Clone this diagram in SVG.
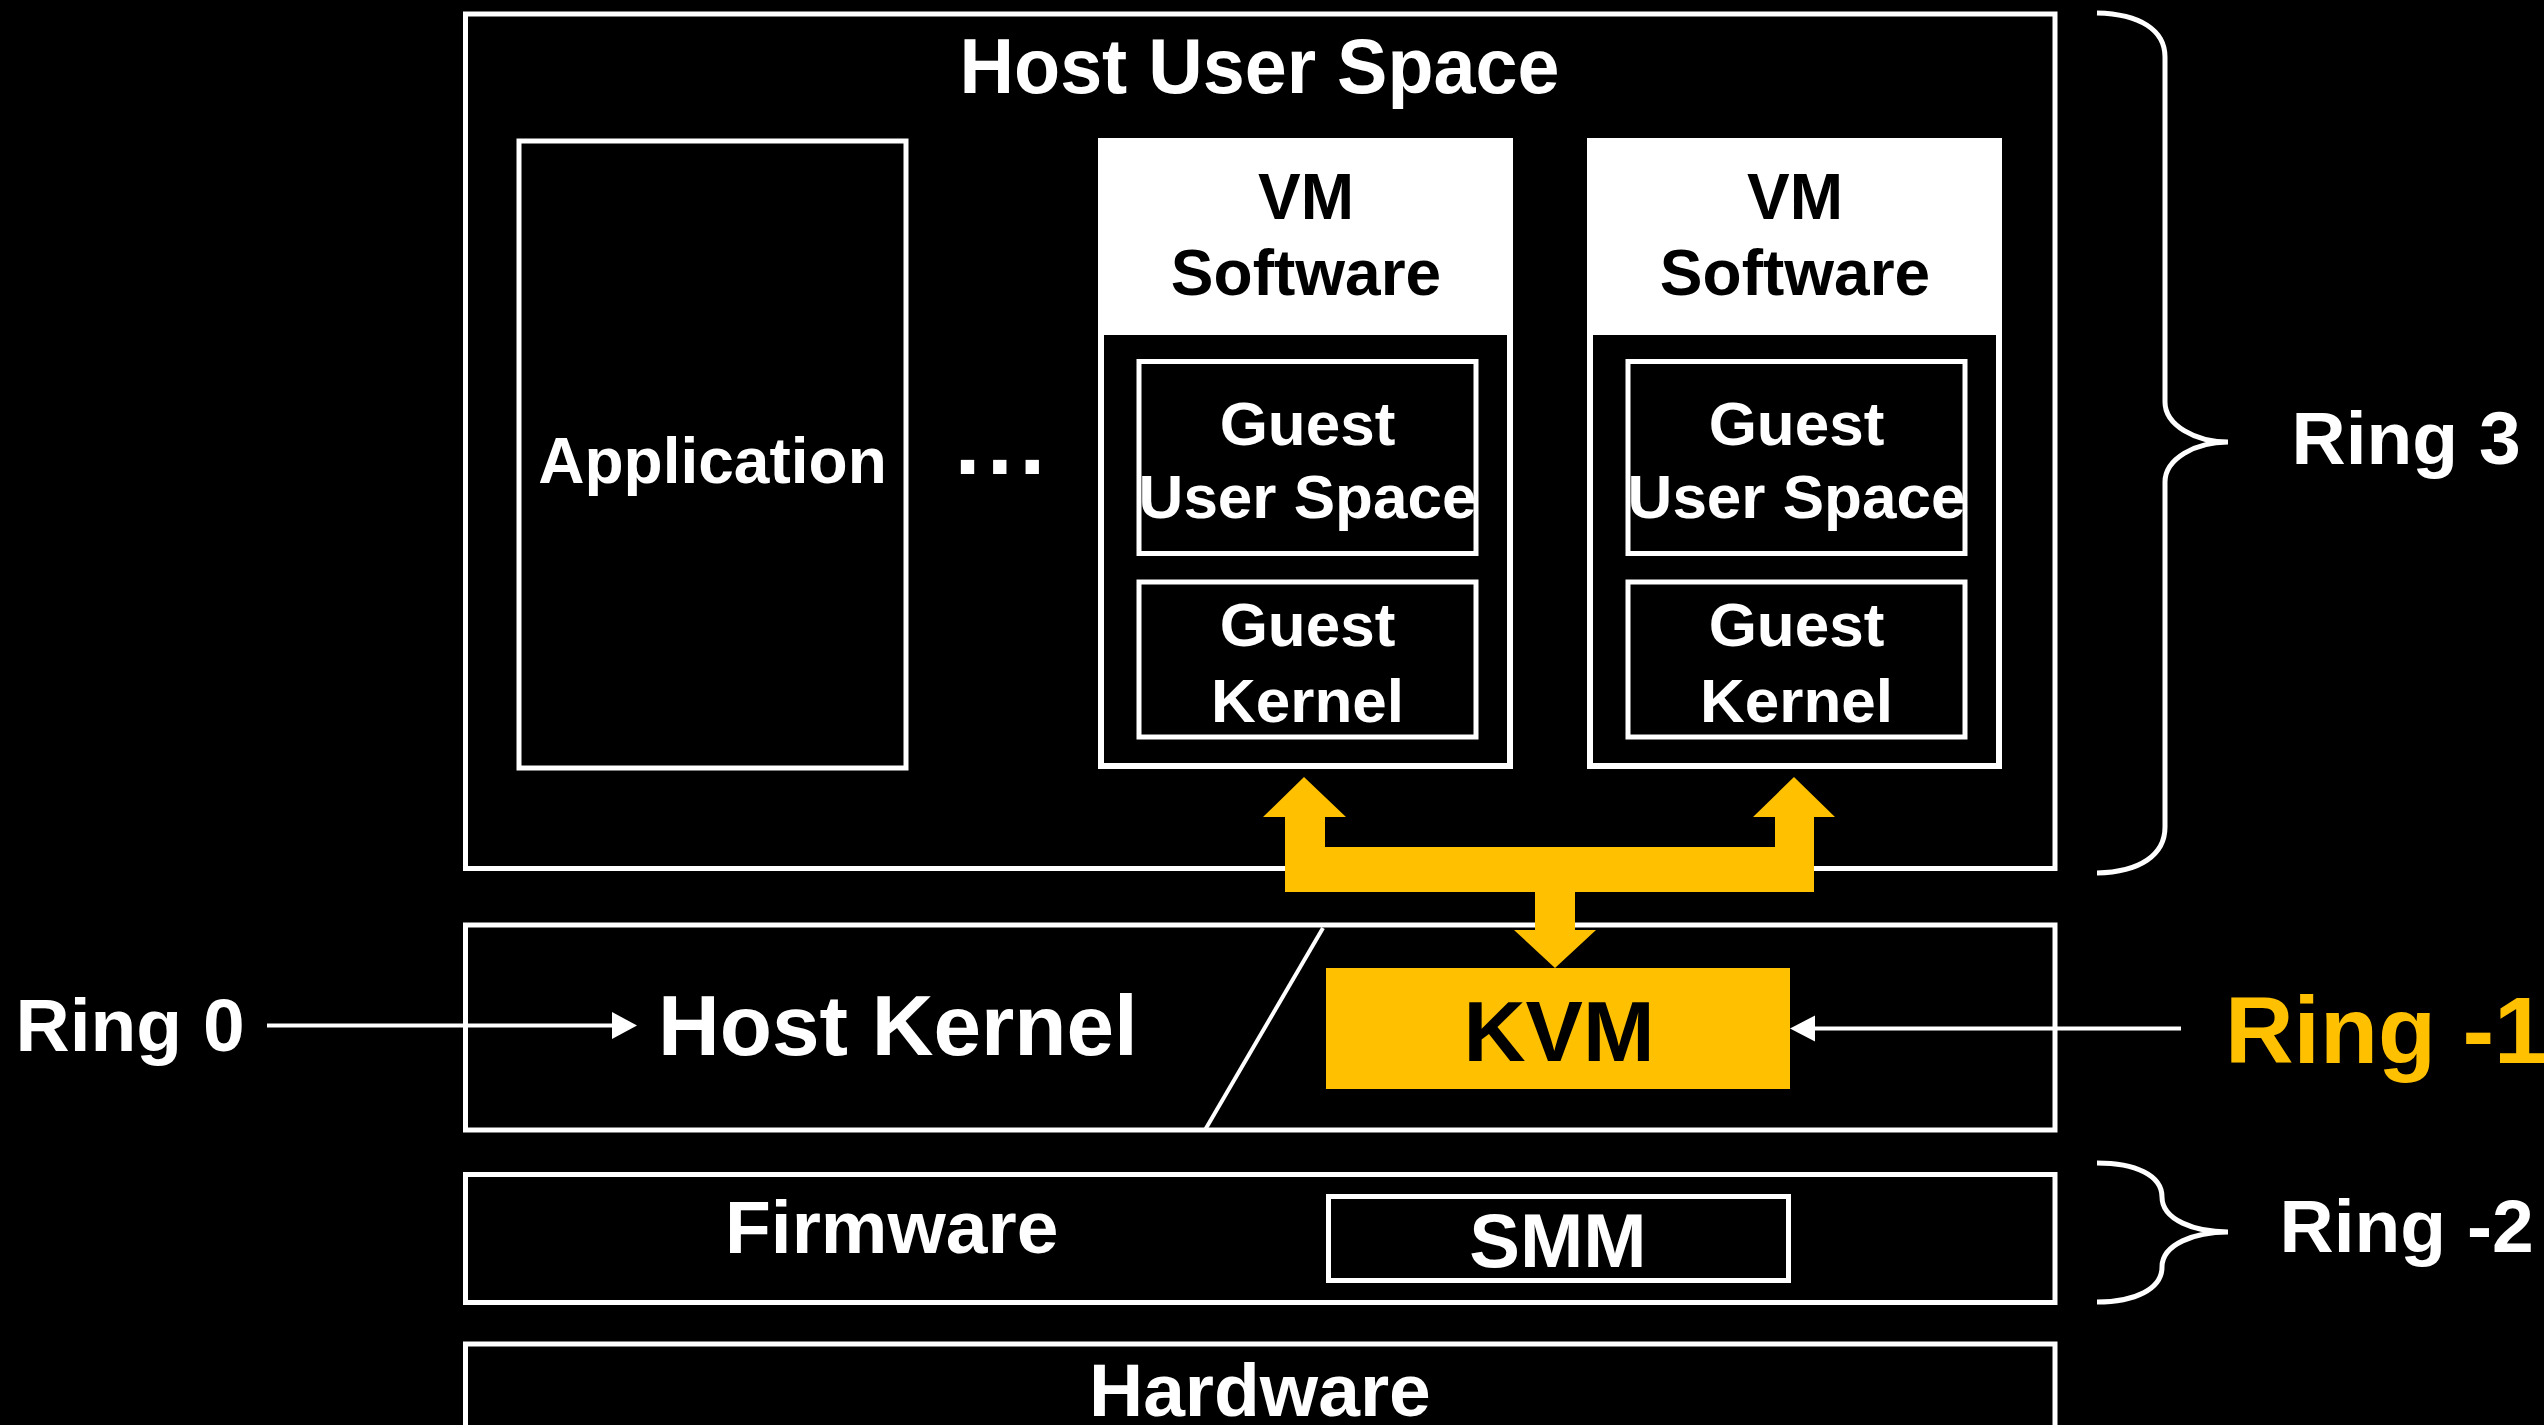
<svg xmlns="http://www.w3.org/2000/svg" width="2544" height="1425" viewBox="0 0 2544 1425">
  <style>
    .box { fill: #000; stroke: #fff; stroke-width: 5; }
    .t { font-family: "Liberation Sans", Arial, sans-serif; font-weight: bold; fill: #fff; }
    .tb { font-family: "Liberation Sans", Arial, sans-serif; font-weight: bold; fill: #000; }
    .ty { font-family: "Liberation Sans", Arial, sans-serif; font-weight: bold; fill: #FFC000; }
    .line { stroke: #fff; stroke-width: 4; fill: none; }
    .brace { stroke: #fff; stroke-width: 5; fill: none; }
  </style>
  <rect x="0" y="0" width="2544" height="1425" fill="#000"/>

  <g id="host-user-space">
    <rect class="box" x="465.5" y="14" width="1589.5" height="854.5"/>
    <text class="t" x="959.5" y="93" font-size="77" textLength="600" lengthAdjust="spacingAndGlyphs">Host User Space</text>
  </g>

  <g id="application">
    <rect class="box" x="519" y="141" width="387" height="627"/>
    <text class="t" x="712.5" y="483" font-size="64" text-anchor="middle">Application</text>
  </g>

  <g id="ellipsis">
    <text class="t" x="954.5" y="474" font-size="94" letter-spacing="6.2">...</text>
  </g>

  <g id="vm1">
    <rect x="1101" y="141" width="409" height="625" fill="#000" stroke="#fff" stroke-width="6"/>
    <rect x="1098" y="138" width="415" height="197" fill="#fff"/>
    <text class="tb" x="1306" y="219" font-size="64" text-anchor="middle">VM</text>
    <text class="tb" x="1306" y="295" font-size="64" text-anchor="middle">Software</text>
    <g id="vm1-guest-user">
      <rect class="box" x="1139" y="361.5" width="337" height="192"/>
      <text class="t" x="1307.5" y="445" font-size="62" text-anchor="middle">Guest</text>
      <text class="t" x="1307.5" y="518" font-size="62" text-anchor="middle">User Space</text>
    </g>
    <g id="vm1-guest-kernel">
      <rect class="box" x="1139" y="582" width="337" height="155"/>
      <text class="t" x="1307.5" y="646" font-size="62" text-anchor="middle">Guest</text>
      <text class="t" x="1307.5" y="722" font-size="62" text-anchor="middle">Kernel</text>
    </g>
  </g>

  <g id="vm2">
    <rect x="1590" y="141" width="409" height="625" fill="#000" stroke="#fff" stroke-width="6"/>
    <rect x="1587" y="138" width="415" height="197" fill="#fff"/>
    <text class="tb" x="1795" y="219" font-size="64" text-anchor="middle">VM</text>
    <text class="tb" x="1795" y="295" font-size="64" text-anchor="middle">Software</text>
    <g id="vm2-guest-user">
      <rect class="box" x="1628" y="361.5" width="337" height="192"/>
      <text class="t" x="1796.5" y="445" font-size="62" text-anchor="middle">Guest</text>
      <text class="t" x="1796.5" y="518" font-size="62" text-anchor="middle">User Space</text>
    </g>
    <g id="vm2-guest-kernel">
      <rect class="box" x="1628" y="582" width="337" height="155"/>
      <text class="t" x="1796.5" y="646" font-size="62" text-anchor="middle">Guest</text>
      <text class="t" x="1796.5" y="722" font-size="62" text-anchor="middle">Kernel</text>
    </g>
  </g>

  <g id="host-kernel">
    <rect class="box" x="465.5" y="925" width="1589.5" height="205"/>
    <line class="line" x1="1323" y1="928" x2="1205" y2="1130"/>
    <text class="t" x="658" y="1055" font-size="85.5">Host Kernel</text>
  </g>

  <g id="kvm">
    <rect x="1326" y="968" width="464" height="121" fill="#FFC000"/>
    <text class="tb" x="1559" y="1061" font-size="86" text-anchor="middle">KVM</text>
  </g>

  <g id="firmware">
    <rect class="box" x="465.5" y="1174.5" width="1589.5" height="128"/>
    <text class="t" x="725" y="1253" font-size="75">Firmware</text>
  </g>

  <g id="smm">
    <rect class="box" x="1328.5" y="1196.5" width="460" height="84"/>
    <text class="t" x="1558" y="1267" font-size="76" text-anchor="middle">SMM</text>
  </g>

  <g id="hardware">
    <rect class="box" x="465.5" y="1344" width="1589.5" height="200"/>
    <text class="t" x="1089" y="1416" font-size="75">Hardware</text>
  </g>

  <g id="ring3">
    <path class="brace" d="M2097,13 C2140,14 2165,30 2165,57 L2165,402 C2165,425 2195,442 2228,442 C2195,442 2165,459 2165,482 L2165,827 C2165,855 2140,872 2097,873"/>
    <text class="t" x="2291.5" y="464" font-size="75">Ring 3</text>
  </g>

  <g id="ring0">
    <text class="t" x="15.5" y="1051" font-size="75">Ring 0</text>
  </g>

  <g id="ring-1">
    <text class="ty" x="2225" y="1063" font-size="95">Ring -1</text>
  </g>

  <g id="ring-2">
    <path class="brace" d="M2097,1163 C2135,1163 2162,1175 2162,1197 C2162,1220 2195,1232 2228,1232 C2195,1232 2162,1244 2162,1267 C2162,1289 2135,1302 2097,1302"/>
    <text class="t" x="2279.5" y="1252" font-size="75">Ring -2</text>
  </g>

  <g id="connectors">
    <line class="line" x1="267" y1="1025.5" x2="614" y2="1025.5"/>
    <polygon points="612,1012 637,1025.5 612,1039" fill="#fff"/>
    <line class="line" x1="2181" y1="1028.5" x2="1812" y2="1028.5"/>
    <polygon points="1815,1015.5 1790,1028.5 1815,1041.5" fill="#fff"/>
    <polygon fill="#FFC000" points="1304,777 1346,817 1325,817 1325,847 1775,847 1775,817 1753,817 1794,777 1835,817 1814,817 1814,892 1575,892 1575,930 1596,930 1555,968 1514,930 1535,930 1535,892 1285,892 1285,817 1263,817"/>
  </g>
</svg>
